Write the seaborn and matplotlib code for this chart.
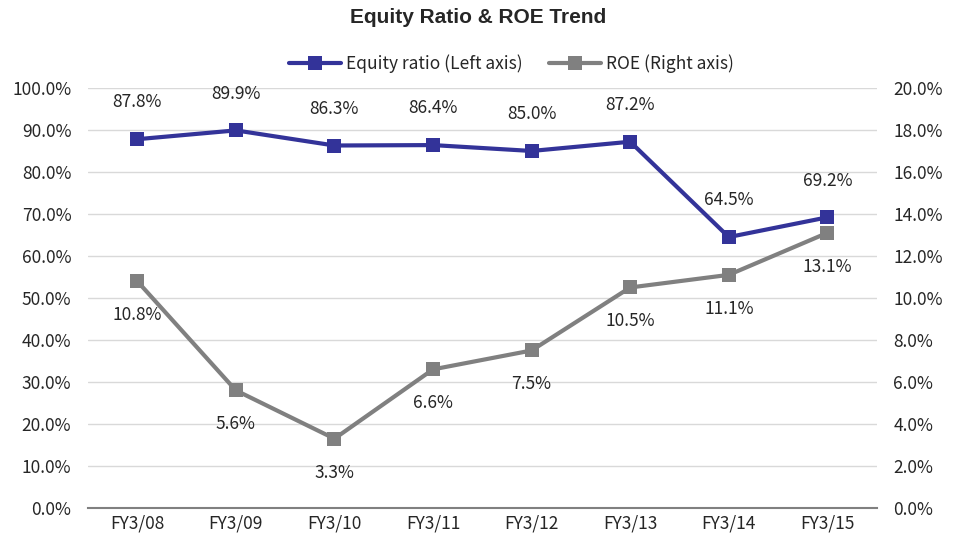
import pandas as pd
import matplotlib.pyplot as plt
import seaborn as sns
from matplotlib.ticker import FuncFormatter, MultipleLocator

years = ['FY3/08', 'FY3/09', 'FY3/10', 'FY3/11', 'FY3/12', 'FY3/13', 'FY3/14', 'FY3/15']
equity_ratio = [87.8, 89.9, 86.3, 86.4, 85.0, 87.2, 64.5, 69.2]
roe = [10.8, 5.6, 3.3, 6.6, 7.5, 10.5, 11.1, 13.1]

sns.set_style("white")
plt.rcParams['font.family'] = ['Noto Sans CJK JP', 'DejaVu Sans']

df = pd.DataFrame({'x': range(len(years)), 'Year': years, 'Equity': equity_ratio, 'ROE': roe})

fig = plt.figure(figsize=(9.56, 5.43), dpi=100)
ax = fig.add_axes([0.092, 0.0645, 0.825, 0.7735])
ax2 = ax.twinx()

blue = '#333399'
gray = '#808080'

sns.lineplot(data=df, x='x', y='Equity', ax=ax, color=blue, marker='s', markersize=10,
             linewidth=3, markeredgewidth=0, label='Equity ratio (Left axis)', legend=False)
sns.lineplot(data=df, x='x', y='ROE', ax=ax2, color=gray, marker='s', markersize=10,
             linewidth=3, markeredgewidth=0, label='ROE (Right axis)', legend=False)

for i, v in enumerate(equity_ratio):
    ax.annotate(f'{v:.1f}%', (i, v), xytext=(0, 20), textcoords='offset points',
                ha='center', va='bottom', fontsize=12.5)
for i, v in enumerate(roe):
    ax2.annotate(f'{v:.1f}%', (i, v), xytext=(0, -18), textcoords='offset points',
                 ha='center', va='top', fontsize=12.5)

ax.set_ylim(0, 100)
ax2.set_ylim(0, 20)
ax.set_xlim(-0.5, len(years) - 0.5)
ax.yaxis.set_major_locator(MultipleLocator(10))
ax2.yaxis.set_major_locator(MultipleLocator(2))
ax.yaxis.set_major_formatter(FuncFormatter(lambda v, p: f'{v:.1f}%'))
ax2.yaxis.set_major_formatter(FuncFormatter(lambda v, p: f'{v:.1f}%'))
ax.set_xticks(range(len(years)))
ax.set_xticklabels(years)
ax.set_xticks([i - 0.5 for i in range(len(years) + 1)], minor=True)
ax.tick_params(axis='x', which='major', length=0, labelsize=12.5, pad=5)
ax.tick_params(axis='x', which='minor', length=5, color=gray, width=1.5)
ax.tick_params(axis='y', length=0, labelsize=12.5, pad=12)
ax2.tick_params(axis='y', length=0, labelsize=12.5, pad=12)
ax.set_xlabel('')
ax.set_ylabel('')
ax2.set_ylabel('')
ax.grid(axis='y', color='#d9d9d9', linewidth=1)
ax.set_axisbelow(True)
for a in (ax, ax2):
    for s in ['left', 'right', 'top', 'bottom']:
        a.spines[s].set_visible(False)
ax.spines['bottom'].set_visible(True)
ax.spines['bottom'].set_color(gray)
ax.spines['bottom'].set_linewidth(1.5)

h1, l1 = ax.get_legend_handles_labels()
h2, l2 = ax2.get_legend_handles_labels()
fig.legend(h1 + h2, l1 + l2, loc='center', bbox_to_anchor=(0.535, 0.882), ncol=2,
           frameon=False, fontsize=12.5, handlelength=3, columnspacing=1.5, handletextpad=0.3)

fig.suptitle('Equity Ratio & ROE Trend', x=0.5, y=0.985, fontsize=15, fontweight='bold',
             family=['Liberation Sans', 'DejaVu Sans'])

plt.savefig('out.png', dpi=100)
